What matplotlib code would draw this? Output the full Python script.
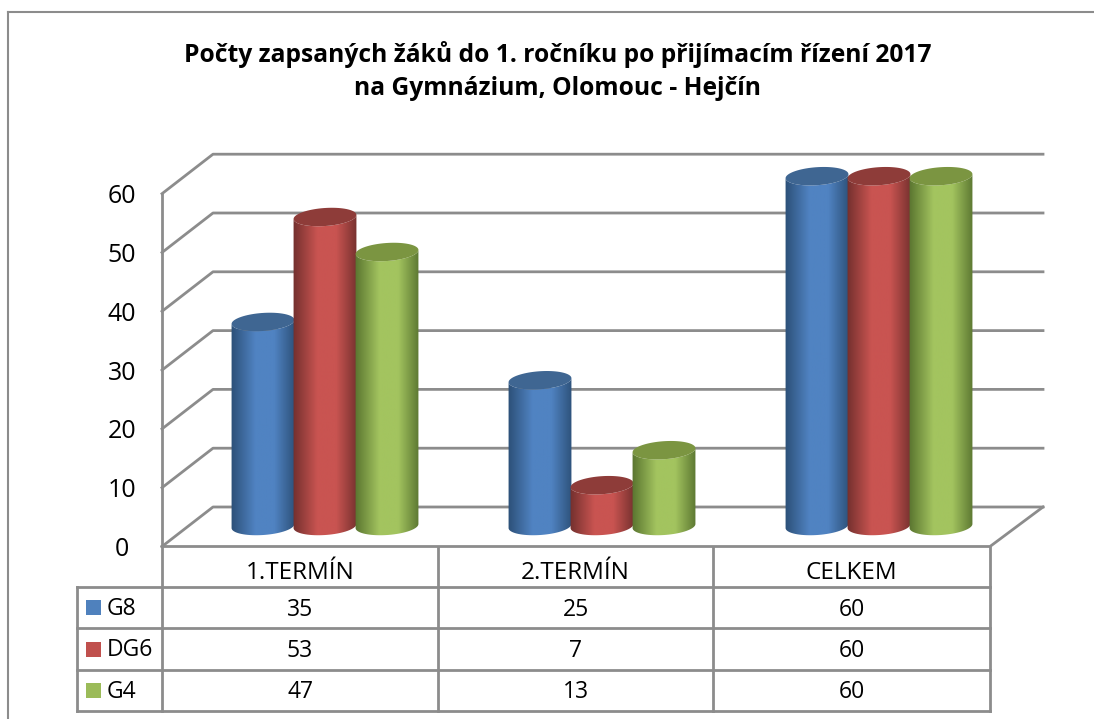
import numpy as np
import matplotlib
matplotlib.use("Agg")
import matplotlib.pyplot as plt
from matplotlib.colors import LinearSegmentedColormap
from matplotlib.patches import PathPatch, Polygon, Rectangle
from matplotlib.path import Path

plt.rcParams['font.family'] = ['Open Sans', 'DejaVu Sans']

title = "Počty zapsaných žáků do 1. ročníku po přijímacím řízení 2017\nna Gymnázium, Olomouc - Hejčín"
categories = ["1.TERMÍN", "2.TERMÍN", "CELKEM"]
series_names = ["G8", "DG6", "G4"]
g8 = [35, 25, 60]
dg6 = [53, 7, 60]
g4 = [47, 13, 60]
y_ticks = [0, 10, 20, 30, 40, 50, 60]

edge_colors = ["#2c5078", "#74302e", "#5a7530"]
mid_colors = ["#5083c2", "#c95451", "#a3c45f"]
top_colors = ["#3f6692", "#8e3c39", "#7b9541"]
legend_colors = ["#4f81bd", "#c0504d", "#9bbb59"]
GRID = "#8c8c8c"

# the whole figure is one axes in pixel units
fig = plt.figure(figsize=(10.94, 7.19), dpi=100)
ax = fig.add_axes([0, 0, 1, 1])
ax.set_xlim(0, 1094)
ax.set_ylim(719, 0)
ax.axis("off")

x_front, x_right = 162, 990
x_back, x_back_right = 213, 1043
y0_front, y0_back, y0_bar = 546.5, 507, 526
step, bar_step = 5.88, 5.83
col_lines = [162, 438, 713, 990]
row_lines = [546.5, 587, 628, 670, 711]
group_x = [263, 540, 817]
bar_dx = 62
half_w, half_h = 31.5, 9
tilt = np.radians(-4)


def ellipse_pts(cx, cy, t):
    x = cx + half_w * np.cos(t) * np.cos(tilt) - half_h * np.sin(t) * np.sin(tilt)
    y = cy + half_w * np.cos(t) * np.sin(tilt) + half_h * np.sin(t) * np.cos(tilt)
    return np.column_stack([x, y])


def cylinder(cx, value, i):
    top = y0_bar - value * bar_step
    # body: top arc then bottom arc, joined at the sides
    t = np.linspace(np.pi, 0, 40)
    up = ellipse_pts(cx, top, t)
    low = ellipse_pts(cx, y0_bar, t)[::-1]
    verts = np.vstack([up, low, up[:1]])
    body = PathPatch(Path(verts), fc="none", ec="none", zorder=3 + i)
    ax.add_patch(body)
    cmap = LinearSegmentedColormap.from_list(
        "c", [edge_colors[i], mid_colors[i], mid_colors[i], edge_colors[i]])
    grad = np.interp(np.linspace(0, 1, 128), [0, .45, .6, 1], [0, .4, .6, 1])[None, :]
    im = ax.imshow(grad, cmap=cmap, aspect="auto", zorder=3 + i,
                   extent=[cx - half_w - 1, cx + half_w + 1, y0_bar + half_h + 3, top - half_h - 3])
    im.set_clip_path(body)
    lid = Polygon(ellipse_pts(cx, top, np.linspace(0, 2 * np.pi, 80)),
                  closed=True, fc=top_colors[i], ec="none", zorder=3 + i)
    ax.add_patch(lid)


# walls and gridlines
for v in y_ticks:
    yf = y0_front - v * step
    yb = y0_back - v * step
    ax.plot([x_front, x_back, x_back_right], [yf, yb, yb], color=GRID, lw=2, zorder=1)
    ax.text(122, yf + 3, str(v), ha="center", va="center", fontsize=18, color="black")
ax.plot([x_front, x_front], [y0_front - 60 * step, row_lines[-1]], color=GRID, lw=2, zorder=2)
ax.plot([x_front, x_right, x_back_right], [y0_front, y0_front, y0_back], color=GRID, lw=2, zorder=2)

for i, vals in enumerate([g8, dg6, g4]):
    for j, v in enumerate(vals):
        cylinder(group_x[j] + i * bar_dx, v, i)
ax.set_xlim(0, 1094)
ax.set_ylim(719, 0)

# data table
for x in col_lines[1:]:
    ax.plot([x, x], [row_lines[0], row_lines[-1]], color=GRID, lw=2, zorder=2)
ax.plot([77, 77], [row_lines[1], row_lines[-1]], color=GRID, lw=2, zorder=2)
for y in row_lines[1:]:
    ax.plot([77, x_right], [y, y], color=GRID, lw=2, zorder=2)

for j, c in enumerate(categories):
    ax.text((col_lines[j] + col_lines[j + 1]) / 2, 573, c, ha="center", va="center", fontsize=17.5)
for i, vals in enumerate([g8, dg6, g4]):
    ym = (row_lines[i + 1] + row_lines[i + 2]) / 2
    ax.add_patch(Rectangle((86, ym - 7.5), 15, 15, fc=legend_colors[i], ec="none"))
    ax.text(107, ym + 1.5, series_names[i], ha="left", va="center", fontsize=16.5)
    for j, v in enumerate(vals):
        ax.text((col_lines[j] + col_lines[j + 1]) / 2, ym + 2, str(v), ha="center", va="center", fontsize=16.5)

ax.text(558, 71, title, ha="center", va="center", fontsize=17.7, fontweight="bold", linespacing=1.37)

# chart frame
ax.plot([8, 8], [12, 719], color=GRID, lw=1.5)
ax.plot([8, 1094], [12, 12], color=GRID, lw=1.5)

fig.savefig("out.png", dpi=100)
